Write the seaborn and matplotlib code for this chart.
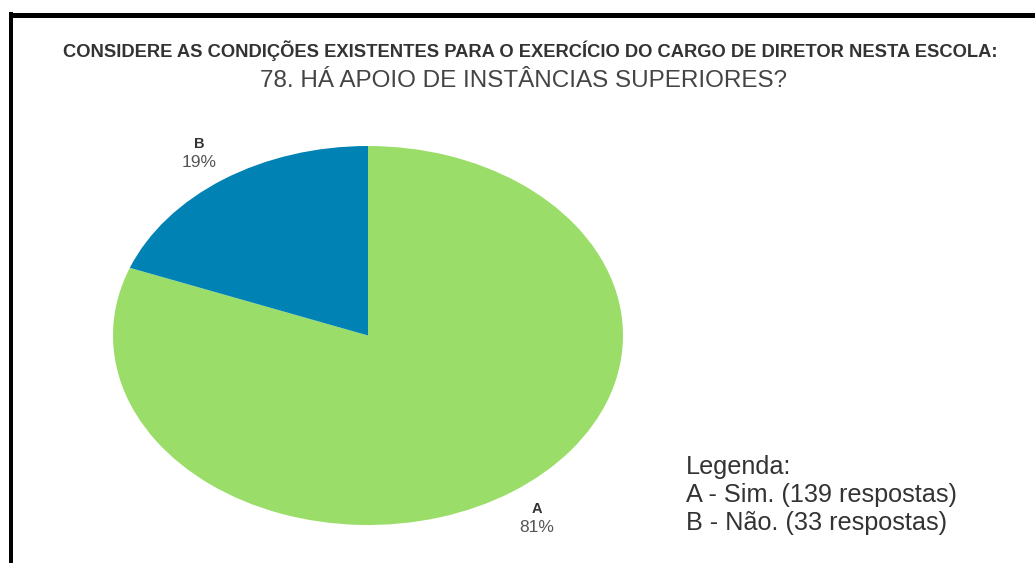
import matplotlib
matplotlib.use("Agg")
import matplotlib.pyplot as plt
from matplotlib.lines import Line2D
import numpy as np
import seaborn as sns

# Survey answers
categories = ["A", "B"]
answers = ["Sim.", "Não."]
counts = [139, 33]
colors = ["#9ade69", "#0082b4"]

header = "CONSIDERE AS CONDIÇÕES EXISTENTES PARA O EXERCÍCIO DO CARGO DE DIRETOR NESTA ESCOLA:"
question = "78. HÁ APOIO DE INSTÂNCIAS SUPERIORES?"
legend_title = "Legenda:"

sns.set_theme(style="white")
plt.rcParams["font.family"] = ["Liberation Sans", "DejaVu Sans"]

W, H = 1035, 563
fig = plt.figure(figsize=(W / 100, H / 100), dpi=100)
fig.patch.set_facecolor("white")


def fx(px):
    return px / W


def fy(py):
    return 1 - py / H


renderer = fig.canvas.get_renderer()


def fit_width(t, target_px):
    w = t.get_window_extent(renderer).width
    t.set_fontsize(t.get_fontsize() * target_px / w)


# Pie drawn inside an axes box whose aspect is not forced to be equal
ax = fig.add_axes([fx(113), fy(525), fx(623) - fx(113), fy(146) - fy(525)])
wedges, _ = ax.pie(counts, colors=colors, startangle=90, counterclock=False,
                   radius=1.0, wedgeprops=dict(linewidth=0))
ax.set_aspect("auto")
ax.set_xlim(-1, 1)
ax.set_ylim(-1, 1)
ax.axis("off")

total = sum(counts)
for w, cat, c in zip(wedges, categories, counts):
    mid = np.deg2rad((w.theta1 + w.theta2) / 2)
    r = 1.17
    x, y = r * np.cos(mid), r * np.sin(mid)
    ax.annotate(cat, (x, y), xytext=(0, 9), textcoords="offset pixels",
                ha="center", va="center", fontsize=10.5,
                fontweight="bold", color="#333333")
    ax.annotate(f"{round(100 * c / total)}%", (x, y), xytext=(0, -9.5),
                textcoords="offset pixels", ha="center", va="center",
                fontsize=12.5, color="#555555")

# Headings
t = fig.text(fx(530.5), fy(51), header, ha="center", va="center",
             fontsize=12, fontweight="bold", color="#333333")
fit_width(t, 929)
t = fig.text(fx(523), fy(81), question, ha="center", va="center",
             fontsize=14, color="#444444")
fit_width(t, 530)

# Legend text
lines = [legend_title] + [f"{k} - {a} ({n} respostas)"
                          for k, a, n in zip(categories, answers, counts)]
ys = [467, 495, 523]
objs = []
for s, yy in zip(lines, ys):
    objs.append(fig.text(fx(686), fy(yy), s, ha="left", va="center",
                         fontsize=16, color="#333333"))
w = objs[1].get_window_extent(renderer).width
scale = 0.95 * 286 / w
for o in objs:
    o.set_fontsize(o.get_fontsize() * scale)

# Frame lines along the top and left
fig.add_artist(Line2D([fx(9), 1], [fy(14.5), fy(14.5)], color="black",
                      linewidth=5 * 0.72, solid_capstyle="butt"))
fig.add_artist(Line2D([fx(11), fx(11)], [fy(12), 0], color="black",
                      linewidth=4 * 0.72, solid_capstyle="butt"))

fig.savefig("out.png", dpi=100)
